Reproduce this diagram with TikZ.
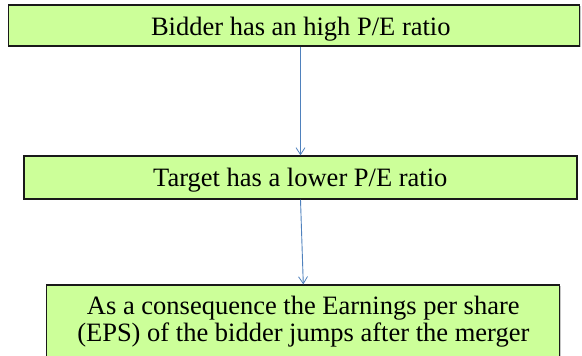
\documentclass[tikz,border=0pt]{standalone}
\usepackage{fontspec}
\setmainfont{Liberation Serif}
\usetikzlibrary{arrows.meta,shadows}
\definecolor{boxgreen}{HTML}{CCFF99}
\definecolor{arrowblue}{HTML}{4F81BD}
\tikzset{
  box/.style={draw=black!90, line width=1.3pt, fill=boxgreen, inner sep=0pt,
    drop shadow={shadow xshift=1pt, shadow yshift=-1pt, opacity=0.45, fill=black!50}},
  txt/.style={anchor=base, inner sep=0pt, font=\fontsize{26.5}{28}\selectfont, text=black},
  conn/.style={draw=arrowblue, line width=0.9pt, -{Straight Barb[length=7pt,width=9pt,line width=0.8pt]}}
}
\begin{document}
\begin{tikzpicture}[x=1pt,y=-1pt]
\useasboundingbox (0,0) rectangle (582,356);
\clip (0,0) rectangle (582,356);
\node[box, minimum width=571pt, minimum height=41pt] (b1) at (294,25.5) {};
\node[box, minimum width=553pt, minimum height=43pt] (b2) at (300.5,177.5) {};
\node[box, minimum width=513pt, minimum height=80pt] (b3) at (303.3,325) {};
\node[txt] (t1) at (300.8,35) {Bidder has an high P/E ratio};
\node[txt] (t2) at (300.3,186.7) {Target has a lower P/E ratio};
\node[txt] (t3a) at (303.3,314.8) {As a consequence the Earnings per share};
\node[txt] (t3b) at (303.3,341.8) {(EPS) of the bidder jumps after the merger};
\draw[conn] (b2.north |- b1.south) -- (b2.north);
\draw[conn] (b2.south) -- (b3.north);
\end{tikzpicture}
\end{document}
